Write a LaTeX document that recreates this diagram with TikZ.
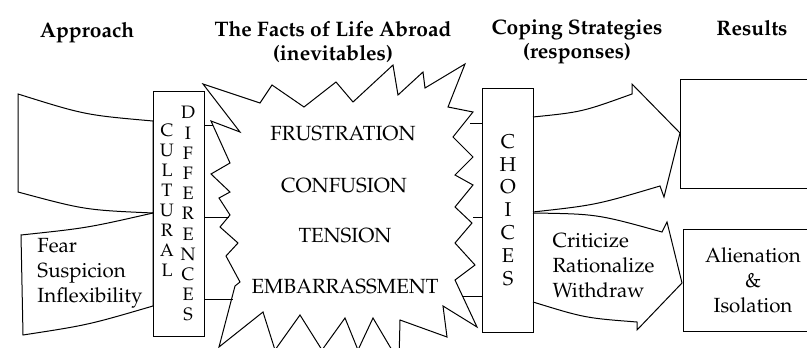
\documentclass[tikz,border=0pt]{standalone}
\usepackage[T1]{fontenc}
\usepackage{mathpazo}
\usetikzlibrary{positioning}
\tikzset{>=stealth}

\begin{document}
\begin{tikzpicture}[x=1pt,y=-1pt,line width=1pt,line join=miter,
  head/.style={font=\fontsize{21}{24}\selectfont\bfseries,align=center,inner sep=0},
  txt/.style={font=\fontsize{20.5}{25}\selectfont,inner sep=0},
  stack/.style={align=center,inner sep=0,anchor=north},
  tall/.style={draw,inner sep=0,minimum width=51}]
  \useasboundingbox (0,0) rectangle (807,348);
  % column heads
  \node[head,anchor=base] (hAppr) at (87,37) {Approach};
  \node[head] (hFacts) at (333,42) {The Facts of Life Abroad\\(inevitables)};
  \node[head] (hCope) at (577,42) {Coping Strategies\\(responses)};
  \node[head,anchor=base] (hRes) at (752,35) {Results};

  % approach bands
  \draw (18,94) .. controls (85,115) .. (153,121) -- (153,213)
        .. controls (85,210) .. (18,192) -- cycle;
  \draw (21,235) .. controls (87,228) .. (153,213) -- (153,306)
        .. controls (88,325) .. (23,335) -- cycle;
  \node[txt,align=left,anchor=west] (fear) at (37,273) {Fear\\Suspicion\\Inflexibility};

  % cultural differences
  \node[tall,minimum height=245] (cult) at (178.5,213.5) {};
  \node[stack,font=\fontsize{18}{20}\selectfont] (cultA) at (167,124) {C\\U\\L\\T\\U\\R\\A\\L};
  \node[stack,font=\fontsize{18}{20.2}\selectfont] (cultB) at (188,106) {D\\I\\F\\F\\E\\R\\E\\N\\C\\E\\S};

  % facts of life
  \draw (203,84) -- (260,103) -- (272,85) -- (304,107) -- (336,82) -- (353,102)
     -- (393,65) -- (398,95) -- (423,72) -- (425,88) -- (465,64) -- (448,107)
     -- (473,112) -- (453,137) -- (473,157) -- (455,175) -- (473,185) -- (455,207)
     -- (472,223) -- (455,243) -- (475,265) -- (455,280) -- (477,327) -- (443,306)
     -- (447,337) -- (400,320) -- (399,362) -- (373,318) -- (358,350) -- (345,318)
     -- (322,350) -- (300,315) -- (275,350) -- (263,312) -- (219,347)
     -- (235,286) -- (240,282) -- (226,256) -- (238,243) -- (220,227) -- (230,215)
     -- (219,198) -- (230,192) -- (211,174) -- (230,163) -- (211,121) -- (240,132)
     -- cycle;
  \coordinate (bL1) at (213,125);
  \coordinate (bL2) at (229,217);
  \coordinate (bL3) at (233,299);
  \coordinate (bR1) at (470,123);
  \coordinate (bR2) at (473,217);
  \coordinate (bR3) at (462,296);
  \node[txt,anchor=base] (fr) at (343,140) {FRUSTRATION};
  \node[txt,anchor=base] (co) at (344,192) {CONFUSION};
  \node[txt,anchor=base] (te) at (345,242) {TENSION};
  \node[txt,anchor=base] (em) at (345,293) {EMBARRASSMENT};

  % choices
  \node[tall,minimum height=244] (cho) at (507.5,210) {};
  \node[stack,font=\fontsize{20}{22.8}\selectfont] (choT) at (508,134) {C\\H\\O\\I\\C\\E\\S};
  \draw (cult.east |- bL1) -- (bL1);
  \draw (cult.east |- bL2) -- (bL2);
  \draw (cult.east |- bL3) -- (bL3);
  \draw (bR1) -- (bR1 -| cho.west);
  \draw (bR2) -- (bR2 -| cho.west);
  \draw (bR3) -- (bR3 -| cho.west);

  % strategy arrows
  \draw (533,117) .. controls (582,112) .. (632,94) -- (632,84) -- (680,133)
     -- (664,197) -- (660,186) .. controls (596,205) .. (533,212);
  \draw (533,213) .. controls (597,214) .. (662,232) -- (667,222) -- (682,283)
     -- (637,330) -- (637,322) .. controls (585,318) .. (533,302);
  \node[txt,align=left,anchor=west] (crit) at (552,265) {Criticize\\Rationalize\\Withdraw};

  % results
  \node[draw,inner sep=0,minimum width=150,minimum height=109] (res1) at (755,133.5) {};
  \node[draw,inner sep=0,minimum width=147,minimum height=102] (res2) at (756.5,280) {};
  \node[txt,align=center] (alien) at (753,280.5) {Alienation\\\&\\Isolation};
\end{tikzpicture}
\end{document}
